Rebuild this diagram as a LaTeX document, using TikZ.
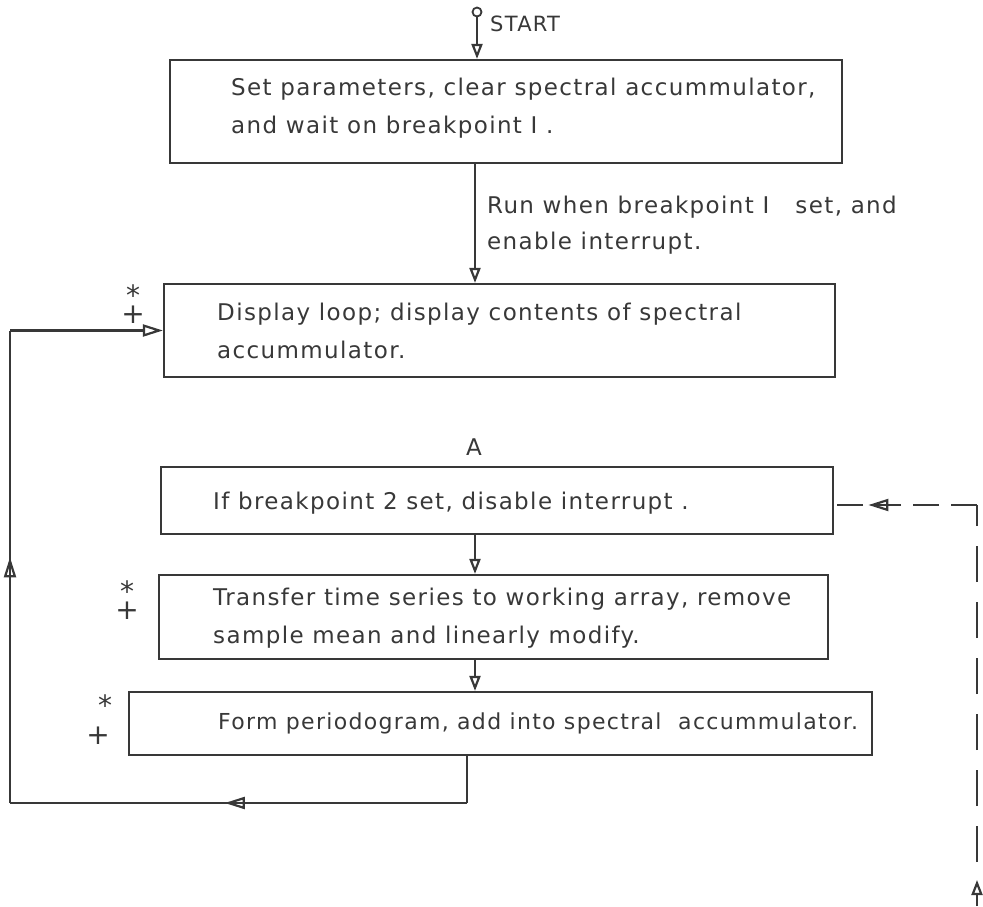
\documentclass[tikz,border=0pt]{standalone}
\usepackage{fontspec}
\setmainfont{DejaVu Sans}[LetterSpace=6]
\usetikzlibrary{arrows.meta,decorations.markings}
\begin{document}
\begin{tikzpicture}[x=1pt,y=-1pt,
  ink/.style={draw=black!78, line width=2.2pt},
  box/.style={ink, rectangle, inner sep=0pt},
  txt/.style={text=black!78, font=\fontsize{23}{38}\selectfont, align=left, anchor=west, inner sep=0pt},
  sym/.style={text=black!78, font=\fontsize{28}{18}\selectfont, inner sep=0pt, align=center},
  tip/.style={-{Triangle[open,length=15pt,width=11pt]}},
  bigtip/.style={-{Triangle[open,length=20pt,width=12pt]}},
  midarrow/.style={postaction={decorate}, decoration={markings, mark=at position #1 with {\arrow[line width=2.2pt, draw=black!78]{Triangle[open,length=20pt,width=12pt]}}}},
  dashline/.style={ink, dash pattern=on 36pt off 20pt}
]
\useasboundingbox (0,0) rectangle (983,907);
\coordinate (ax) at (475,0);

% boxes
\node[box, minimum width=672pt, minimum height=103pt] (B1) at (506,111.5) {};
\node[box, minimum width=671pt, minimum height=93pt] (B2) at (499.5,330.5) {};
\node[box, minimum width=672pt, minimum height=67pt] (B3) at (497,500.5) {};
\node[box, minimum width=669pt, minimum height=84pt] (B4) at (493.5,617) {};
\node[box, minimum width=743pt, minimum height=63pt] (B5) at (500.5,723.5) {};

% texts
\node[txt] (T1) at (231,108) {Set parameters, clear spectral accummulator,\\and wait on breakpoint I .};
\node[txt] (T2) at (217,331) {Display loop; display contents of spectral\\accummulator.};
\node[txt] (T3) at (213,503) {If breakpoint 2 set, disable interrupt .};
\node[txt] (T4) at (213,618) {Transfer time series to working array, remove\\sample mean and linearly modify.};
\node[txt, font=\fontsize{22}{38}\selectfont] (T5) at (218,723) {Form periodogram, add into spectral\ \ accummulator.};
\node[txt, font=\fontsize{23}{36}\selectfont] (L1) at (487,225) {Run when breakpoint I\ \ \ set, and\\enable interrupt.};
\node[txt, anchor=center] (A) at (474,447) {A};

% start
\node[circle, ink, line width=1.8pt, inner sep=0pt, minimum size=9pt] (SC) at (477,12) {};
\node[txt, font=\fontsize{21}{21}\selectfont] (ST) at (490,24) {START};
\draw[ink, tip] (SC.south) -- (SC |- B1.north);

% marks
\node[sym] (S2) at (133,304.5) {*\\+};
\node[sym] (S4) at (127,600.5) {*\\+};
\node[sym] (S5b) at (98,736) {+};
\node[sym, anchor=south] (S5a) at (105,716) {*};

% main flow
\draw[ink, tip] (B1.south -| ax) -- (B2.north -| ax);
\draw[ink, tip] (B3.south -| ax) -- (B4.north -| ax);
\draw[ink, tip] (B4.south -| ax) -- (B5.north -| ax);

% loop
\coordinate (P1) at (467,803);
\coordinate (P2) at (10,803);
\coordinate (P3) at (10,330.5);
\draw[ink] (B5.south -| P1) -- (P1);
\draw[ink, midarrow=0.53] (P1) -- (P2);
\draw[ink, midarrow=0.52] (P2) -- (P3);
\draw[ink, bigtip] (P3) -- (B2.west);

% dashed return
\coordinate (D0) at (977,906);
\coordinate (D1) at (977,880);
\coordinate (D2) at (977,862);
\coordinate (D3) at (977,505);
\draw[ink, tip] (D0) -- (D1);
\draw[dashline] (D2) -- (D3);
\draw[ink, dash pattern=on 26pt off 12pt, midarrow=0.76] (D3) -- (B3.east |- D3);
\end{tikzpicture}
\end{document}
